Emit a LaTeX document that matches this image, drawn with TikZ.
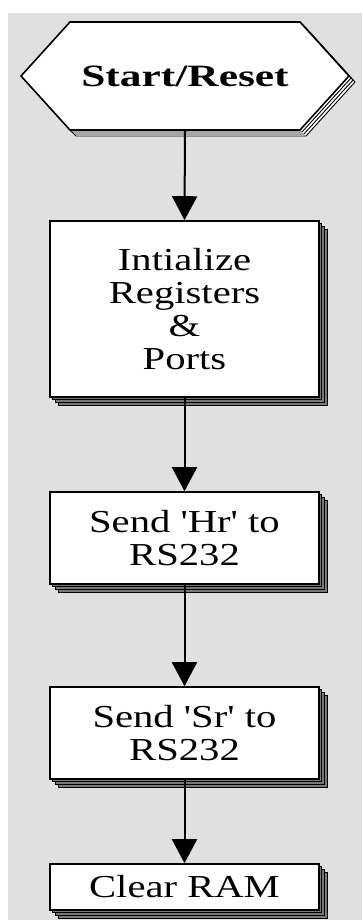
\documentclass[tikz,border=0pt]{standalone}
\usepackage{fontspec}
\setmainfont{Liberation Serif}[FakeStretch=1.27, Ligatures=TeXOff]
\newfontfamily\hexfont{Liberation Serif}[FakeStretch=1.4, Ligatures=TeXOff]
\usetikzlibrary{arrows.meta,shadows}
\definecolor{bg}{RGB}{224,224,224}
\definecolor{shade}{RGB}{120,120,120}
\tikzset{
  boxstack/.style={
    copy shadow={shadow xshift=8pt, shadow yshift=-8pt, fill=shade, draw=black, line width=0.8pt},
    copy shadow={shadow xshift=5.3pt, shadow yshift=-5.3pt, fill=shade, draw=black, line width=0.8pt},
    copy shadow={shadow xshift=2.7pt, shadow yshift=-2.7pt, fill=shade, draw=black, line width=0.8pt},
    fill=white, draw=black, line width=1.6pt,
    minimum width=269pt, inner sep=0pt, align=center,
    font=\fontsize{32}{33}\selectfont},
  hexstack/.style={
    copy shadow={shadow xshift=6pt, shadow yshift=-6pt, fill=white, draw=black, line width=0.9pt},
    copy shadow={shadow xshift=4pt, shadow yshift=-4pt, fill=white, draw=black, line width=0.9pt},
    copy shadow={shadow xshift=2pt, shadow yshift=-2pt, fill=white, draw=black, line width=0.9pt},
    fill=white, draw=black, line width=1.6pt},
  flow/.style={draw=black, line width=2pt, -{Triangle[width=25pt,length=24pt]}}
}
\begin{document}
\begin{tikzpicture}[x=1pt,y=-1pt]
\useasboundingbox (0,0) rectangle (362,920);
\fill[white] (0,0) rectangle (362,920);
\fill[bg] (8,13) rectangle (362,920);
% start hexagon
\path[hexstack] (21,76) -- (70,22) -- (300,22) -- (349,76) -- (300,130) -- (70,130) -- cycle;
\node[minimum width=328pt, minimum height=108pt, inner sep=0pt,
      font=\hexfont\fontsize{31}{33}\selectfont\bfseries] (start) at (185,76) {Start/Reset};
% boxes
\node[boxstack, minimum height=176pt] (init) at (184.5,309) {Intialize\\Registers\\\&\\Ports};
\node[boxstack, minimum height=92pt] (hr) at (184.5,538) {Send 'Hr' to\\RS232};
\node[boxstack, minimum height=92pt] (sr) at (184.5,733) {Send 'Sr' to\\RS232};
\node[boxstack, minimum height=46pt] (ram) at (184.5,887) {Clear RAM};
% connectors
\draw[flow] (start.south) -- (init.north);
\draw[flow] (init.south) -- (hr.north);
\draw[flow] (hr.south) -- (sr.north);
\draw[flow] (sr.south) -- (ram.north);
\end{tikzpicture}
\end{document}
